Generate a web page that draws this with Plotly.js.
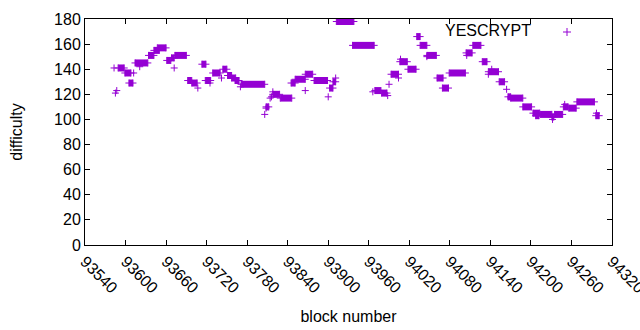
<!DOCTYPE html>
<html>
<head>
<meta charset="utf-8">
<script src="https://cdn.plot.ly/plotly-3.0.1.min.js"></script>
<style>html,body{margin:0;padding:0;background:#fff;}#chart{width:640px;height:330px;}</style>
</head>
<body>
<div id="chart"></div>
<script>
// Runs of consecutive blocks at the same difficulty (start block, end block, difficulty)
var runStart = [93583,93585,93587,93589,93599,93605,93612,93614,93621,93634,93642,93647,93661,93668,93673,93672,93692,93698,93707,93713,93718,93725,93729,93742,93744,93751,93757,93762,93770,93771,93806,93808,93808,93814,93816,93818,93818,93829,93845,93851,93866,93866,93879,93900,93902,93907,93911,93912,93936,93966,93969,93979,93988,93990,93993,94004,94006,94007,94018,94031,94036,94046,94046,94061,94069,94079,94104,94105,94114,94128,94137,94137,94142,94153,94164,94166,94170,94188,94203,94207,94214,94232,94231,94235,94250,94248,94256,94268,94296,94297];
var runEnd   = [93583,93585,93587,93598,93608,93611,93612,93633,93621,93642,93650,93660,93667,93672,93690,93672,93698,93706,93707,93719,93726,93725,93740,93742,93750,93757,93763,93768,93770,93806,93806,93808,93812,93814,93816,93818,93828,93846,93851,93866,93877,93866,93899,93900,93907,93911,93911,93938,93968,93966,93978,93987,93988,93990,94004,94004,94017,94007,94030,94036,94046,94060,94046,94070,94078,94103,94113,94105,94126,94135,94152,94137,94142,94161,94164,94170,94188,94201,94213,94212,94231,94232,94234,94247,94250,94255,94267,94294,94301,94297];
var runDiff  = [141,121,123,141,137,129,137,145,142,151,155,157,147,149,151,141,131,129,125,144,131,129,137,133,140,135,133,131,126,128,104,109,110,117,118,122,120,117,129,132,136,123,131,118,125,130,133,178,159,122,123,121,119,128,136,133,146,148,140,166,159,151,150,133,125,137,153,151,159,146,138,136,140,130,124,118,117,110,105,103,104,100,102,104,112,110,109,114,103,105];

var seriesName = "YESCRYPT";
var xTicks = [93540,93600,93660,93720,93780,93840,93900,93960,94020,94080,94140,94200,94260,94320];
var yTicks = [0,20,40,60,80,100,120,140,160,180];

var col = "#9400d3";
var lx = [], ly = [], mx = [], my = [];
for (var i = 0; i < runStart.length; i++) {
  lx.push(runStart[i], runEnd[i], null);
  ly.push(runDiff[i], runDiff[i], null);
  mx.push(runStart[i]); my.push(runDiff[i]);
  if (runEnd[i] !== runStart[i]) { mx.push(runEnd[i]); my.push(runDiff[i]); }
}

var traces = [
  {x: lx, y: ly, mode: "lines", type: "scatter", connectgaps: false,
   line: {color: col, width: 7}, showlegend: false, hoverinfo: "skip"},
  {x: mx, y: my, mode: "markers", type: "scatter", name: seriesName,
   marker: {symbol: "cross-thin", size: 5, color: col, line: {color: col, width: 1}},
   showlegend: false}
];

var font = {family: "Liberation Sans, Arial, sans-serif", size: 16, color: "#000"};
var layout = {
  width: 640, height: 330,
  margin: {l: 85, r: 28, t: 19, b: 85},
  paper_bgcolor: "#fff", plot_bgcolor: "#fff",
  font: font,
  showlegend: false,
  xaxis: {
    range: [xTicks[0] - 0.01, xTicks[xTicks.length-1] + 0.01],
    tickvals: xTicks, ticktext: xTicks.map(String),
    tickangle: 45, ticks: "inside", ticklen: 5, tickcolor: "#000",
    showline: true, linecolor: "#000", linewidth: 1, mirror: "ticks",
    showgrid: false, zeroline: false,
    tickfont: font, ticklabeloverflow: "allow",
    title: {text: "block number", font: font, standoff: 15}
  },
  yaxis: {
    range: [yTicks[0], yTicks[yTicks.length-1]],
    tickvals: yTicks, ticktext: yTicks.map(String),
    ticks: "inside", ticklen: 5, tickcolor: "#000",
    showline: true, linecolor: "#000", linewidth: 1, mirror: "ticks",
    showgrid: false, zeroline: false,
    tickfont: font,
    title: {text: "difficulty", font: font, standoff: 27}
  },
  annotations: [
    {xref: "paper", yref: "paper", x: (533-85)/527, y: (245-31)/226, xanchor: "right", yanchor: "middle",
     text: seriesName, showarrow: false, font: font}
  ],
  shapes: [
    {type: "line", xref: "paper", yref: "paper", x0: (563-85)/527, x1: (571-85)/527, y0: (245-32)/226, y1: (245-32)/226, line: {color: col, width: 1}},
    {type: "line", xref: "paper", yref: "paper", x0: (567-85)/527, x1: (567-85)/527, y0: (245-28)/226, y1: (245-36)/226, line: {color: col, width: 1}}
  ]
};

Plotly.newPlot("chart", traces, layout, {staticPlot: true, displayModeBar: false});
</script>
</body>
</html>
